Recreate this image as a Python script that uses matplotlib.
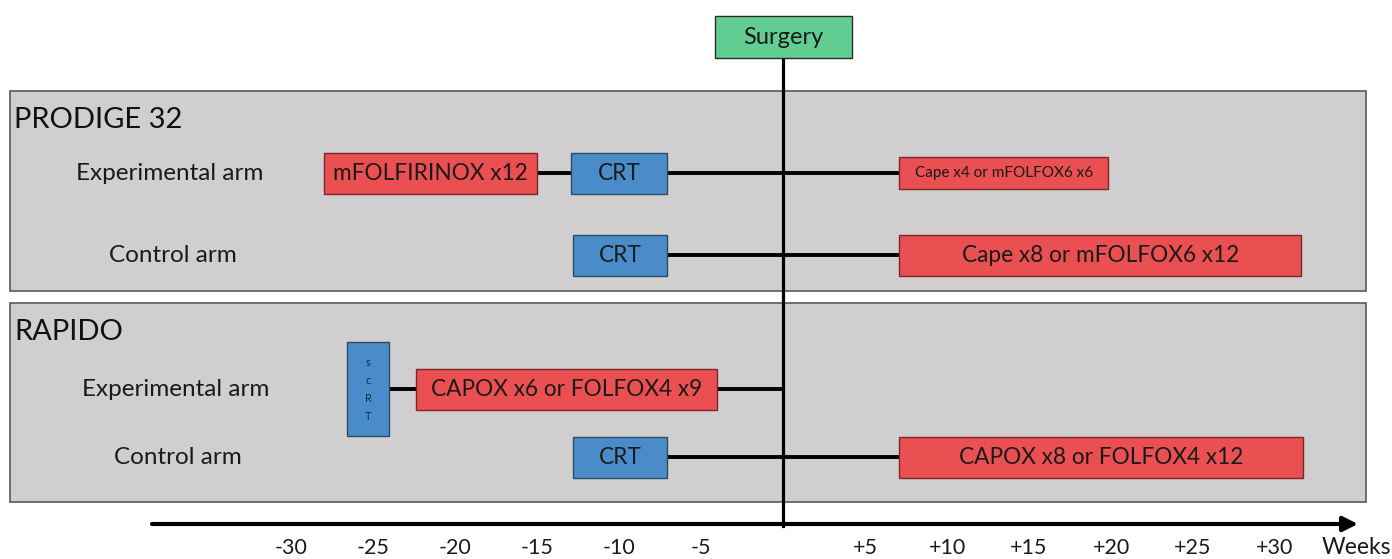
import matplotlib.pyplot as plt
from matplotlib.patches import Rectangle

plt.rcParams['font.family'] = ['Lato', 'DejaVu Sans']

# trials / arms
trial_names = ['PRODIGE 32', 'RAPIDO']
arm_labels = ['Experimental arm', 'Control arm', 'Experimental arm', 'Control arm']

# treatment blocks, times in weeks relative to surgery
box_labels = ['mFOLFIRINOX x12', 'CRT', 'Cape x4 or mFOLFOX6 x6',
              'CRT', 'Cape x8 or mFOLFOX6 x12',
              'sCRT', 'CAPOX x6 or FOLFOX4 x9',
              'CRT', 'CAPOX x8 or FOLFOX4 x12']
box_start = [-28.0, -12.9, 7.1, -12.8, 7.1, -26.6, -22.4, -12.8, 7.1]
box_end = [-15.0, -7.1, 19.8, -7.1, 31.6, -24.0, -4.0, -7.1, 31.7]
box_arm = [0, 0, 0, 1, 1, 2, 2, 3, 3]
box_kind = ['chemo', 'rt', 'chemo', 'rt', 'chemo', 'rt', 'chemo', 'rt', 'chemo']

week_ticks = [-30, -25, -20, -15, -10, -5, 5, 10, 15, 20, 25, 30]
week_labels = ['-30', '-25', '-20', '-15', '-10', '-5',
               '+5', '+10', '+15', '+20', '+25', '+30']

# layout (pixels of the 1392x559 canvas)
W, H = 1392, 559
X0 = 783.0       # pixel of surgery (week 0)
PXW = 16.4       # pixels per week


def px2w(p):
    return (p - X0) / PXW


RED = '#EA4F51'
BLUE = '#4A8CC9'
GREEN = '#62CD92'
GREY = '#D0CECE'

arm_y = [173, 255, 389, 457]
arm_label_x = [170, 173, 176, 178]
panel_top = [91, 303]
panel_bot = [291, 502]
title_y = [120, 332]

fig = plt.figure(figsize=(W / 100, H / 100), dpi=100)
ax = fig.add_axes([0, 0, 1, 1])
ax.set_xlim(px2w(0), px2w(W))
ax.set_ylim(H, 0)
ax.axis('off')

# grey trial panels
for i, name in enumerate(trial_names):
    ax.add_patch(Rectangle((px2w(10), panel_top[i]), px2w(1366) - px2w(10),
                           panel_bot[i] - panel_top[i], facecolor=GREY,
                           edgecolor='#5a5a5a', lw=1.2, zorder=1))
    ax.text(px2w(14), title_y[i], name, fontsize=21, ha='left', va='center',
            color='#111111', zorder=5)

# arm labels and connecting lines
for a, lab in enumerate(arm_labels):
    ax.text(px2w(arm_label_x[a]), arm_y[a], lab, fontsize=17.5, ha='center',
            va='center', color='#1a1a1a', zorder=5)
    st = [box_start[i] for i in range(len(box_labels)) if box_arm[i] == a]
    en = [box_end[i] for i in range(len(box_labels)) if box_arm[i] == a]
    ax.plot([min(st), max(en + [0])], [arm_y[a], arm_y[a]], color='black',
            lw=2.8, solid_capstyle='butt', zorder=2)

# treatment boxes
for i, lab in enumerate(box_labels):
    y = arm_y[box_arm[i]]
    h = 41
    fs = 16.3
    if lab == 'sCRT':
        h = 94
    elif lab == 'Cape x4 or mFOLFOX6 x6':
        h = 32
        fs = 11
    fc = RED if box_kind[i] == 'chemo' else BLUE
    ec = '#7a2a2a' if box_kind[i] == 'chemo' else '#2b4a66'
    ax.add_patch(Rectangle((box_start[i], y - h / 2), box_end[i] - box_start[i], h,
                           facecolor=fc, edgecolor=ec, lw=1.0, zorder=3))
    xc = (box_start[i] + box_end[i]) / 2
    if lab == 'sCRT':
        for k, ch in enumerate(['s', 'c', 'R', 'T']):
            ax.text(xc, y - 27 + k * 18, ch, fontsize=8, ha='center',
                    va='center', color='#1a2a3a', zorder=4)
    else:
        ax.text(xc, y, lab, fontsize=fs, ha='center', va='center',
                color='#1a1a1a', zorder=4)

# surgery
ax.plot([0, 0], [58, 526], color='black', lw=2.3, zorder=4)
ax.add_patch(Rectangle((px2w(715), 16), px2w(852) - px2w(715), 42,
                       facecolor=GREEN, edgecolor='#2a2a2a', lw=1.0, zorder=5))
ax.text(px2w(783.5), 37, 'Surgery', fontsize=17, ha='center', va='center',
        color='#1a1a1a', zorder=6)

# time axis
ax.annotate('', xy=(px2w(1358), 524), xytext=(px2w(152), 524),
            arrowprops=dict(arrowstyle='-|>', lw=3, color='black',
                            mutation_scale=22, shrinkA=0, shrinkB=0), zorder=4)
for t, lab in zip(week_ticks, week_labels):
    ax.text(t, 548, lab, fontsize=15.5, ha='center', va='center', color='#1a1a1a')
ax.text(px2w(1356), 547, 'Weeks', fontsize=16.5, ha='center', va='center',
        color='#1a1a1a')

fig.savefig('out.png', dpi=100)
